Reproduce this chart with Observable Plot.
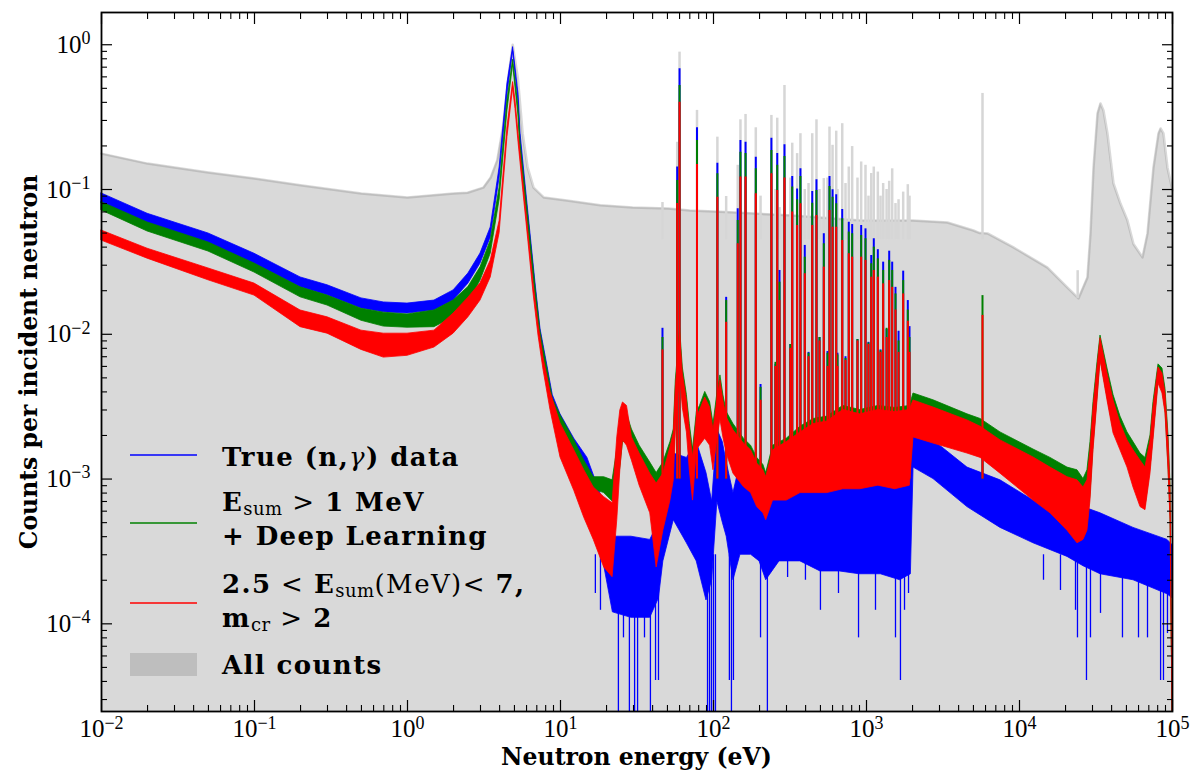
<!DOCTYPE html>
<html>
<head>
<meta charset="utf-8">
<script src="https://cdn.jsdelivr.net/npm/d3@7"></script>
<script src="https://cdn.jsdelivr.net/npm/@observablehq/plot@0.6"></script>
<style>
  html, body { margin: 0; padding: 0; background: #fff; }
  #chart svg { display: block; }
</style>
</head>
<body>
<div id="chart"></div>
<script>
// ---- axis ranges and tick values -------------------------------------------
const yMin = 2.48e-5, yMax = 1.67;
const xDomain = [1e-2, 1e5];
const xMajor = [1e-2, 1e-1, 1, 10, 100, 1e3, 1e4, 1e5];
const yMajor = [1e-4, 1e-3, 1e-2, 1e-1, 1];

// ---- all counts (grey, filled to the bottom): [energy eV, counts/neutron] --
const allCounts = [
  [0.01, 0.177], [0.02, 0.151], [0.05, 0.131], [0.1, 0.119], [0.2, 0.107],
  [0.5, 0.094], [1, 0.088], [2, 0.094], [2.47, 0.095], [3.13, 0.103],
  [3.5, 0.121], [3.86, 0.159], [4.2, 0.268], [4.6, 0.633], [4.87, 1.0],
  [5.26, 0.594], [5.66, 0.244], [6.1, 0.142], [6.67, 0.103], [7.8, 0.088],
  [11, 0.084], [18.2, 0.078], [29.6, 0.075], [50.6, 0.074], [70, 0.0717],
  [120, 0.0698], [330, 0.0662], [920, 0.0611], [2000, 0.061], [3380, 0.0592],
  [5000, 0.0521], [5500, 0.050], [6180, 0.0497], [9140, 0.0398], [15240, 0.0289],
  [20600, 0.021], [24300, 0.0177], [27800, 0.0247], [29100, 0.0497], [30460, 0.142],
  [32350, 0.335], [33840, 0.393], [35400, 0.351], [37590, 0.244], [41170, 0.110],
  [45710, 0.080], [50800, 0.061], [55600, 0.042], [63700, 0.034], [68650, 0.0497],
  [75100, 0.142], [81000, 0.244], [83600, 0.264], [87300, 0.244], [92700, 0.142],
  [100000, 0.0985]
];
// narrow grey-only peak: [energy, foot, top]
const allCountsSpikes = [[24000, 0.0177, 0.0275]];

// ---- noisy continua as [energy, lower edge, upper edge] ---------------------
const trueCapture = [
  [0.01, 0.080, 0.094], [0.02, 0.058, 0.068], [0.05, 0.0424, 0.0497], [0.1, 0.0307, 0.036],
  [0.2, 0.0211, 0.0247], [0.3, 0.0186, 0.0218], [0.5, 0.0151, 0.0177], [0.7, 0.0142, 0.0166],
  [1, 0.0139, 0.0163], [1.5, 0.0146, 0.0171], [2, 0.0171, 0.0201], [2.5, 0.0224, 0.0263],
  [3, 0.0308, 0.0361], [3.5, 0.0467, 0.0547], [4, 0.121, 0.142], [4.5, 0.46, 0.54],
  [4.9, 0.90, 0.963], [5.32, 0.40, 0.45], [5.48, 0.21, 0.243], [5.9, 0.095, 0.110],
  [6.36, 0.043, 0.050], [6.87, 0.019, 0.0224], [7.4, 0.0094, 0.0109], [8.2, 0.0052, 0.0061],
  [8.9, 0.0033, 0.0038], [10, 0.0023, 0.0028], [12.3, 0.0016, 0.0019], [15, 0.0010, 0.0014],
  [18.2, 0.00035, 0.0008], [22, 0.00012, 0.0004], [29, 0.00011, 0.0004], [38.6, 0.00011, 0.00038],
  [44, 0.00015, 0.0005], [47, 0.00027, 0.00098], [55, 0.00052, 0.0015], [67, 0.00036, 0.0014],
  [77.7, 0.00027, 0.0018], [90, 0.000145, 0.0011], [98, 0.0002, 0.0007], [106, 0.0007, 0.0022],
  [115, 0.0005, 0.0018], [122, 0.0004, 0.0013], [135, 0.0002, 0.0008], [150, 0.0003, 0.0013],
  [176, 0.0003, 0.0011], [200, 0.00027, 0.001], [221, 0.0002, 0.0007], [270, 0.00027, 0.0011],
  [370, 0.00027, 0.0013], [500, 0.00023, 0.0013], [670, 0.00023, 0.0012], [900, 0.00022, 0.0012],
  [1240, 0.00022, 0.0012], [1660, 0.0002, 0.001], [1950, 0.00022, 0.0012], [2030, 0.0012, 0.0024],
  [2740, 0.001, 0.00185], [4570, 0.00064, 0.0012], [7510, 0.00046, 0.00098], [12340, 0.00036, 0.00071],
  [20590, 0.00029, 0.00058], [26190, 0.00025, 0.00064], [33840, 0.00022, 0.00058], [55600, 0.0002, 0.00046],
  [92700, 0.00016, 0.00038], [100000, 0.00015, 0.00035]
];
// low-count bins of the true capture data: [energy, value]
const trueCaptureDips = [
  [16.9, 1.62e-4], [18.25, 1.24e-4], [23.9, yMin], [25.8, 8.0e-5], [28.2, yMin], [30.5, yMin],
  [31.9, yMin], [35.4, 8.0e-5], [38.7, yMin], [41.8, 4.06e-5], [43.7, 4.06e-5], [91.4, yMin],
  [94.2, yMin], [97, yMin], [100, yMin], [103, yMin], [127, 4.06e-5], [131, yMin], [135, 4.06e-5],
  [203, 8.0e-5], [225, yMin], [305, 2.09e-4], [399, 2.0e-4], [500, 1.24e-4], [656, 1.62e-4],
  [887, 8.0e-5], [1145, 1.24e-4], [1547, 8.0e-5], [1667, 4.06e-5], [1772, 1.24e-4], [1882, 1.62e-4],
  [14350, 2.0e-4], [18530, 1.7e-4], [23230, 1.24e-4], [23930, 8.0e-5], [27400, 4.06e-5],
  [29100, 8.0e-5], [33840, 1.18e-4], [47100, 8.0e-5], [59950, 8.0e-5], [68650, 8.0e-5],
  [83600, 4.06e-5], [87300, 4.06e-5], [92700, 8.57e-5]
];
const dipTop = 3e-4;

const deepLearning = [
  [0.01, 0.0717, 0.0818], [0.02, 0.0513, 0.0592], [0.05, 0.0373, 0.0431], [0.1, 0.0267, 0.0308],
  [0.2, 0.0180, 0.0211], [0.3, 0.0158, 0.0185], [0.5, 0.0124, 0.0150], [0.7, 0.0113, 0.0141],
  [1, 0.0111, 0.0137], [1.5, 0.0112, 0.0146], [2, 0.0131, 0.0171], [2.5, 0.0164, 0.0212],
  [3, 0.0235, 0.029], [3.5, 0.0361, 0.0445], [4, 0.085, 0.103], [4.5, 0.35, 0.412],
  [4.9, 0.73, 0.788], [5.3, 0.33, 0.38], [5.48, 0.18, 0.21], [5.9, 0.085, 0.10],
  [6.36, 0.039, 0.046], [6.87, 0.018, 0.021], [7.4, 0.0088, 0.0104], [8.2, 0.0049, 0.0058],
  [8.9, 0.0030, 0.0036], [10, 0.0022, 0.00275], [12.3, 0.0015, 0.00185], [14.3, 0.0011, 0.00134],
  [16.5, 0.00085, 0.00103], [19.3, 0.0008, 0.00103], [21.9, 0.0007, 0.00098], [23.5, 0.0008, 0.0016],
  [24.6, 0.0012, 0.0025], [25.6, 0.0018, 0.0028], [27.2, 0.0018, 0.0028], [29.3, 0.0014, 0.0022],
  [32.9, 0.0012, 0.0017], [38.6, 0.0008, 0.0013], [42.5, 0.0004, 0.0011], [47, 0.0006, 0.0013],
  [52.3, 0.0008, 0.0018], [55, 0.0012, 0.0022], [56.7, 0.0024, 0.0048], [60.5, 0.006, 0.011],
  [63, 0.0035, 0.0059], [67, 0.0024, 0.0038], [70, 0.0016, 0.0024], [73.5, 0.0012, 0.0016],
  [77.8, 0.0016, 0.0029], [81.6, 0.0019, 0.0032], [88.3, 0.0022, 0.004], [95, 0.0019, 0.0034],
  [100, 0.0015, 0.0024], [106, 0.0023, 0.0039], [111, 0.0027, 0.0052], [116, 0.0022, 0.0038],
  [122, 0.0018, 0.0029], [135, 0.0015, 0.0024], [158, 0.0012, 0.0019], [176, 0.0011, 0.0017],
  [193, 0.001, 0.0014], [212, 0.0009, 0.00125], [221, 0.0008, 0.0011], [245, 0.0009, 0.0017],
  [301, 0.0009, 0.0019], [370, 0.001, 0.0023], [451, 0.001, 0.0026], [554, 0.001, 0.0027],
  [704, 0.001, 0.0032], [910, 0.001, 0.0030], [1195, 0.001, 0.0032], [1540, 0.001, 0.0031],
  [1920, 0.001, 0.0032], [2028, 0.0021, 0.0039], [2740, 0.0019, 0.0035], [4570, 0.0016, 0.0028],
  [5570, 0.0015, 0.0026], [7510, 0.0012, 0.0021], [12340, 0.00078, 0.0016], [15940, 0.00064, 0.0014],
  [20590, 0.00048, 0.0012], [23930, 0.0004, 0.00115], [26190, 0.00042, 0.001], [27800, 0.00048, 0.00115],
  [29100, 0.00078, 0.0018], [30460, 0.0017, 0.0034], [32350, 0.0037, 0.0064], [33840, 0.0068, 0.0098],
  [37590, 0.0037, 0.0058], [41170, 0.0022, 0.0038], [45710, 0.0017, 0.0027], [50800, 0.0013, 0.0021],
  [55600, 0.00095, 0.0018], [61800, 0.0007, 0.0015], [66600, 0.00065, 0.0014], [71800, 0.0012, 0.002],
  [75100, 0.002, 0.0034], [81000, 0.0048, 0.0062], [86000, 0.0042, 0.0058], [90000, 0.003, 0.0042],
  [94200, 0.0012, 0.002], [97100, 0.00055, 0.0009], [100000, yMin, yMin]
];

const sumMultiplicityCut = [
  [0.01, 0.0444, 0.0521], [0.02, 0.0333, 0.039], [0.05, 0.0236, 0.0285], [0.1, 0.0185, 0.0224],
  [0.2, 0.0112, 0.0146], [0.3, 0.0101, 0.0131], [0.5, 0.0078, 0.0106], [0.7, 0.0069, 0.0101],
  [1, 0.0071, 0.0101], [1.5, 0.0081, 0.0106], [2, 0.0101, 0.0139], [2.5, 0.0131, 0.0179],
  [3, 0.0171, 0.0225], [3.5, 0.0247, 0.0323], [4, 0.05, 0.0606], [4.5, 0.23, 0.268],
  [4.9, 0.50, 0.552], [5.08, 0.36, 0.412], [5.32, 0.21, 0.243], [5.73, 0.095, 0.110],
  [6.18, 0.043, 0.0497], [6.67, 0.019, 0.0224], [7.18, 0.0098, 0.0118], [7.74, 0.0057, 0.0069],
  [8.6, 0.0030, 0.0040], [10, 0.00141, 0.00242], [12.3, 0.00083, 0.00158], [14.3, 0.00054, 0.00115],
  [16.5, 0.00038, 0.000875], [19.3, 0.000245, 0.00075], [21.9, 0.00021, 0.00068], [23.5, 0.00052, 0.00194],
  [24.6, 0.00115, 0.00298], [25.6, 0.00185, 0.00338], [27.2, 0.0017, 0.0032], [29.3, 0.00134, 0.00194],
  [32.9, 0.0009, 0.0015], [38.6, 0.00058, 0.00109], [42.5, 0.000245, 0.00093], [47, 0.00044, 0.00109],
  [52.3, 0.00071, 0.00165], [55, 0.00098, 0.00207], [56.7, 0.0021, 0.00429], [60.5, 0.0055, 0.0101],
  [63, 0.0031, 0.00536], [67, 0.0021, 0.00349], [70, 0.00115, 0.00217], [73.5, 0.00071, 0.00141],
  [77.8, 0.00158, 0.00266], [81.6, 0.0017, 0.00298], [88.3, 0.0019, 0.00366], [95, 0.0017, 0.00312],
  [100, 0.00115, 0.00217], [106, 0.0019, 0.00349], [111, 0.00257, 0.00479], [116, 0.00194, 0.00349],
  [122, 0.0015, 0.00266], [135, 0.00109, 0.00217], [158, 0.00088, 0.00176], [176, 0.0008, 0.00158],
  [193, 0.00064, 0.00128], [212, 0.00058, 0.00115], [221, 0.00052, 0.00103], [245, 0.00071, 0.00158],
  [301, 0.00071, 0.0018], [370, 0.0008, 0.0021], [451, 0.0008, 0.0024], [554, 0.0008, 0.0025],
  [704, 0.00085, 0.003], [910, 0.00085, 0.0028], [1195, 0.0009, 0.003], [1540, 0.00085, 0.0029],
  [1920, 0.0009, 0.003], [2028, 0.00194, 0.00349], [2740, 0.00176, 0.00312], [4570, 0.0015, 0.00254],
  [5570, 0.0014, 0.0023], [7510, 0.00109, 0.00185], [12340, 0.00071, 0.00141], [15940, 0.00058, 0.0012],
  [20590, 0.00044, 0.00103], [23930, 0.00036, 0.00098], [26190, 0.00038, 0.000875], [27800, 0.00044, 0.00098],
  [29100, 0.00071, 0.00158], [30460, 0.00158, 0.00312], [32350, 0.00349, 0.0059], [33840, 0.0066, 0.0094],
  [37590, 0.00349, 0.00536], [41170, 0.00207, 0.00349], [45710, 0.00158, 0.00242], [50800, 0.0012, 0.00185],
  [55600, 0.000875, 0.00158], [61800, 0.00064, 0.00134], [66600, 0.00061, 0.0012], [71800, 0.00109, 0.00185],
  [75100, 0.00185, 0.00312], [81000, 0.00457, 0.0059], [86000, 0.0039, 0.00536], [90000, 0.00284, 0.0039],
  [94200, 0.00115, 0.00185], [97100, 0.00052, 0.00083], [100000, yMin, yMin]
];

// ---- resolved resonances: energy (eV) and peak height per spectrum ---------
const resonanceE = [46.4, 57.9, 60, 78, 106, 121, 144, 150, 162, 189, 203, 239, 254, 261, 270, 291,
  318, 327, 352, 370, 395, 418, 442, 471, 493, 526, 556, 573, 600, 634, 646, 694, 729, 766, 806, 873,
  923, 985, 1030, 1074, 1116, 1186, 1235, 1285, 1353, 1407, 1472, 1547, 1620, 1737, 1862, 1910, 5730];
const grayPeak = [0.0813, 0.212, 0.889, 0.352, 0.230, 0.0895, 0.147, 0.303, 0.330, 0.267, 0.09, 0.325,
  0.10, 0.311, 0.075, 0.523, 0.12, 0.209, 0.177, 0.243, 0.10, 0.11, 0.243, 0.303, 0.10, 0.119,
  0.12, 0.270, 0.202, 0.253, 0.10, 0.285, 0.11, 0.143, 0.198, 0.12, 0.155, 0.147, 0.09, 0.129, 0.143,
  0.132, 0.09, 0.110, 0.10, 0.114, 0.139, 0.080, 0.085, 0.096, 0.108, 0.09, 0.461];
const bluePeak = [0.011, 0.143, 0.683, 0.267, 0.152, 0.018, 0.0736, 0.218, 0.212, 0.167, 0.0045, 0.226,
  0.0062, 0.177, 0.0276, 0.204, 0.0085, 0.123, 0.101, 0.139, 0.0411, 0.0075, 0.0969, 0.117, 0.0095,
  0.0495, 0.0076, 0.123, 0.0996, 0.092, 0.0074, 0.0728, 0.007, 0.0595, 0.0573, 0.0092, 0.0564, 0.0535,
  0.0088, 0.035, 0.0457, 0.0384, 0.0078, 0.0315, 0.0108, 0.0375, 0.0315, 0.0211, 0.0105, 0.0273,
  0.0171, 0.0113, 0.00185];
const greenPeak = [0.0095, 0.1155, 0.523, 0.218, 0.1285, 0.0171, 0.0611, 0.181, 0.177, 0.139, 0.0043,
  0.186, 0.0064, 0.147, 0.0229, 0.169, 0.0085, 0.104, 0.0849, 0.123, 0.0341, 0.0074, 0.0805, 0.0985,
  0.0095, 0.0422, 0.0074, 0.105, 0.0886, 0.0797, 0.0072, 0.0628, 0.0068, 0.0508, 0.0495, 0.0092,
  0.0481, 0.0457, 0.0087, 0.0307, 0.040, 0.0332, 0.0077, 0.0276, 0.011, 0.0324, 0.0276, 0.019, 0.009,
  0.0235, 0.0147, 0.0095, 0.0185];
const redPeak = [0.0078, 0.0801, 0.401, 0.149, 0.0886, 0.0121, 0.0422, 0.122, 0.122, 0.0935, 0.0035,
  0.1285, 0.006, 0.0985, 0.0171, 0.120, 0.008, 0.0698, 0.0564, 0.0797, 0.0262, 0.007, 0.0564, 0.0662,
  0.009, 0.0291, 0.006, 0.0717, 0.0549, 0.0549, 0.006, 0.0445, 0.0066, 0.036, 0.0341, 0.009, 0.0341,
  0.0324, 0.0085, 0.0248, 0.0276, 0.0248, 0.0075, 0.0223, 0.0095, 0.0235, 0.0211, 0.0147, 0.0075,
  0.019, 0.0123, 0.0075, 0.0135];
const resonanceFoot = 1e-3;
const greyResonanceFoot = 0.045;

// ---- series styling ---------------------------------------------------------
const BLUE = "#0000ff", GREEN = "#008000", RED = "#ff0000";
const FILL_GREY = "#808080";

// ---- helpers ----------------------------------------------------------------
const E = d => d[0];
const minorTicks = (lo, hi) => {
  const out = [];
  for (let k = -6; k <= 5; k++) for (let m = 2; m <= 9; m++) {
    const v = m * Math.pow(10, k);
    if (v > lo && v < hi) out.push(v);
  }
  return out;
};
const xMinor = minorTicks(xDomain[0], xDomain[1]);
const yMinor = minorTicks(yMin, yMax);
const pow10 = d => "10^" + Math.round(Math.log10(d));

const band = (data, color) => Plot.areaY(data, {
  x: E, y1: d => d[1], y2: d => d[2], fill: color, stroke: color, strokeWidth: 0.8
});
const peaks = (values, color) => Plot.ruleX(resonanceE.map((e, i) => [e, values[i]]), {
  x: E, y1: resonanceFoot, y2: d => d[1], stroke: color, strokeWidth: 2
});

const tickFont = {fontFamily: "Liberation Serif", fontSize: 25};

const chart = Plot.plot({
  width: 1199,
  height: 772,
  marginTop: 12,
  marginRight: 27,
  marginBottom: 61,
  marginLeft: 101,
  style: {background: "#fff", color: "#000", overflow: "visible"},
  x: {type: "log", domain: xDomain},
  y: {type: "log", domain: [yMin, yMax]},
  marks: [
    // all counts
    Plot.areaY(allCounts, {x: E, y1: yMin, y2: d => d[1], fill: FILL_GREY, fillOpacity: 0.3}),
    Plot.line(allCounts, {x: E, y: d => d[1], stroke: FILL_GREY, strokeOpacity: 0.3, strokeWidth: 2.5}),
    Plot.ruleX(resonanceE.map((e, i) => [e, greyResonanceFoot, grayPeak[i]]).concat(allCountsSpikes), {
      x: E, y1: d => d[1], y2: d => d[2], stroke: "#d6d6d6", strokeWidth: 2.5
    }),
    // true (n,gamma) data
    band(trueCapture, BLUE),
    Plot.ruleX(trueCaptureDips, {x: E, y1: d => d[1], y2: dipTop, stroke: BLUE, strokeWidth: 1.3}),
    peaks(bluePeak, BLUE),
    // Esum > 1 MeV + deep learning
    band(deepLearning, GREEN),
    peaks(greenPeak, GREEN),
    // 2.5 < Esum < 7 MeV, mcr > 2
    band(sumMultiplicityCut, RED),
    peaks(redPeak, RED),
    // axes: inward ticks on all four sides
    Plot.frame({stroke: "#000", strokeWidth: 1.8}),
    Plot.axisX({anchor: "bottom", ticks: xMajor, tickSize: -11, tickPadding: 19, tickFormat: pow10, strokeWidth: 1.2, ...tickFont}),
    Plot.axisX({anchor: "bottom", ticks: xMinor, tickSize: -6, tickFormat: () => "", strokeWidth: 1.1}),
    Plot.axisX({anchor: "top", ticks: xMajor, tickSize: -11, tickFormat: () => "", strokeWidth: 1.2}),
    Plot.axisX({anchor: "top", ticks: xMinor, tickSize: -6, tickFormat: () => "", strokeWidth: 1.1}),
    Plot.axisY({anchor: "left", ticks: yMajor, tickSize: -11, tickPadding: 22, tickFormat: pow10, strokeWidth: 1.2, ...tickFont}),
    Plot.axisY({anchor: "left", ticks: yMinor, tickSize: -6, tickFormat: () => "", strokeWidth: 1.1}),
    Plot.axisY({anchor: "right", ticks: yMajor, tickSize: -11, tickFormat: () => "", strokeWidth: 1.2}),
    Plot.axisY({anchor: "right", ticks: yMinor, tickSize: -6, tickFormat: () => "", strokeWidth: 1.1})
  ]
});

const svg = d3.select(chart);

// power-of-ten tick labels with a raised exponent
svg.selectAll("text").each(function () {
  const m = /^10\^(-?\d+)$/.exec(this.textContent);
  if (!m) return;
  const t = d3.select(this);
  t.text(null);
  t.append("tspan").text("10");
  t.append("tspan").attr("dy", "-0.48em").attr("font-size", "72%").text(m[1].replace("-", "\u2212"));
});

// axis titles
const titleFont = {family: "DejaVu Serif", size: 23.5};
svg.append("text")
  .attr("x", 636.5).attr("y", 765)
  .attr("text-anchor", "middle")
  .attr("font-family", titleFont.family).attr("font-size", titleFont.size).attr("font-weight", "bold")
  .text("Neutron energy (eV)");
svg.append("text")
  .attr("transform", "translate(37,362) rotate(-90)")
  .attr("text-anchor", "middle")
  .attr("font-family", titleFont.family).attr("font-size", titleFont.size).attr("font-weight", "bold")
  .text("Counts per incident neutron");

// legend
const lg = svg.append("g")
  .attr("font-family", "DejaVu Serif").attr("font-size", 26).attr("font-weight", "bold")
  .attr("letter-spacing", 1.4).attr("fill", "#000").attr("text-anchor", "start");
[[455, BLUE], [523, GREEN], [603, RED]].forEach(([y, c]) => {
  lg.append("line").attr("x1", 130).attr("x2", 197).attr("y1", y).attr("y2", y)
    .attr("stroke", c).attr("stroke-width", 1.3);
});
lg.append("rect").attr("x", 130).attr("y", 653).attr("width", 67).attr("height", 23)
  .attr("fill", FILL_GREY).attr("fill-opacity", 0.3);

function legendText(y, parts) {
  const t = lg.append("text").attr("x", 222).attr("y", y);
  let shift = 0;
  for (const [s, kind] of parts) {
    const ts = t.append("tspan").text(s);
    const target = kind === "sub" ? 4 : 0;
    if (target !== shift) { ts.attr("dy", target - shift); shift = target; }
    if (kind === "sub") ts.attr("font-size", 18).attr("font-weight", "normal").attr("letter-spacing", 0.5);
    if (kind === "it") ts.attr("font-style", "italic").attr("font-weight", "normal");
    if (kind === "rm") ts.attr("font-weight", "normal");
  }
}
legendText(466, [["True (n,", ""], ["\u03b3", "it"], [") data", ""]]);
legendText(511, [["E", ""], ["sum", "sub"], [" > ", "rm"], ["1 MeV", ""]]);
legendText(545, [["+ Deep Learning", ""]]);
legendText(593, [["2.5", ""], [" < ", "rm"], ["E", ""], ["sum", "sub"], ["(MeV)", "rm"], ["< ", "rm"], ["7,", ""]]);
legendText(627, [["m", ""], ["cr", "sub"], [" > ", "rm"], ["2", ""]]);
legendText(674, [["All counts", ""]]);

document.getElementById("chart").appendChild(chart);
</script>
</body>
</html>
